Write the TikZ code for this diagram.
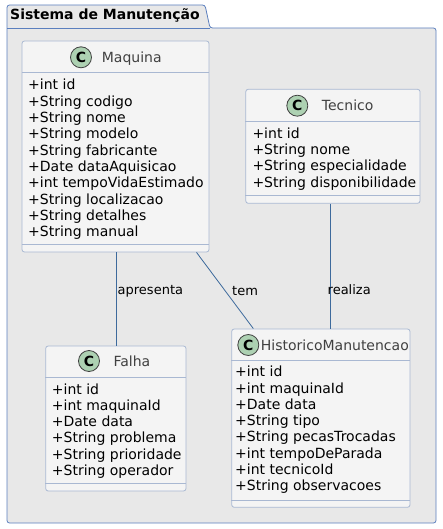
\documentclass[tikz,border=0pt]{standalone}
\usepackage{fontspec}
\setmainfont{DejaVu Sans}
\usetikzlibrary{positioning}
\definecolor{pkgfill}{HTML}{E8E8E8}
\definecolor{pkgline}{HTML}{5B7FBE}
\definecolor{boxfill}{HTML}{F4F4F4}
\definecolor{boxline}{HTML}{A9B8D2}
\definecolor{edgeline}{HTML}{3D6A9C}
\definecolor{circfill}{HTML}{ADD1B2}
\definecolor{titlegray}{HTML}{404040}
\tikzset{
  classbox/.style={draw=boxline, fill=boxfill, rounded corners=2.5pt, line width=0.8pt, inner sep=0pt},
  classicon/.style={circle, draw=black!75, fill=circfill, line width=0.8pt, minimum size=21pt, inner sep=0pt, font=\fontsize{14}{14}\selectfont\bfseries},
  classname/.style={anchor=base west, inner sep=0pt, text=titlegray, font=\fontsize{14}{16.3}\selectfont},
  attrs/.style={anchor=base west, inner sep=0pt, align=left, font=\fontsize{14}{16.3}\selectfont},
  sepline/.style={draw=boxline, line width=0.8pt},
  assoc/.style={draw=edgeline, line width=0.8pt},
  assoclabel/.style={anchor=base west, inner sep=0pt, font=\fontsize{13}{15}\selectfont}
}
\begin{document}
\begin{tikzpicture}[x=1pt, y=-1pt]
    \useasboundingbox (0,0) rectangle (443,529);
    % Package frame
    \draw[pkgline, fill=pkgfill, line width=0.8pt, rounded corners=2.5pt]
        (7,5) -- (205,5) -- (210,28) -- (436,28) -- (436,523) -- (7,523) -- cycle;
    \draw[pkgline, line width=0.8pt] (7,28) -- (210,28);
    \node[anchor=base west, inner sep=0pt, font=\fontsize{14}{16}\selectfont\bfseries] (pkgtitle) at (10,20) {Sistema de Manutenção};

    % Maquina (attribute nodes sit on the baseline of their last line)
    \node[classbox, minimum width=187pt, minimum height=211pt] (maquina) at (115.5,146.5) {};
    \draw[sepline] ([yshift=-32pt]maquina.north west) -- ([yshift=-32pt]maquina.north east);
    \draw[sepline] ([yshift=8.5pt]maquina.south west) -- ([yshift=8.5pt]maquina.south east);
    \node[classicon] (maquinaC) at (81,57.3) {C};
    \node[classname] (maquinaName) at (101.7,62.5) {Maquina};
    \node[attrs] (maquinaAttr) at (28,236.7) {+int id\\+String codigo\\+String nome\\+String modelo\\+String fabricante\\+Date dataAquisicao\\+int tempoVidaEstimado\\+String localizacao\\+String detalhes\\+String manual};

    % Tecnico
    \node[classbox, minimum width=174.3pt, minimum height=114pt] (tecnico) at (332.9,146.3) {};
    \draw[sepline] ([yshift=-32.4pt]tecnico.north west) -- ([yshift=-32.4pt]tecnico.north east);
    \draw[sepline] ([yshift=8.3pt]tecnico.south west) -- ([yshift=8.3pt]tecnico.south east);
    \node[classicon] (tecnicoC) at (297.3,105.7) {C};
    \node[classname] (tecnicoName) at (321.7,110.7) {Tecnico};
    \node[attrs] (tecnicoAttr) at (252.3,187.2) {+int id\\+String nome\\+String especialidade\\+String disponibilidade};

    % Falha
    \node[classbox, minimum width=140.3pt, minimum height=145pt] (falha) at (115.85,418.5) {};
    \draw[sepline] ([yshift=-31.3pt]falha.north west) -- ([yshift=-31.3pt]falha.north east);
    \draw[sepline] ([yshift=7.7pt]falha.south west) -- ([yshift=7.7pt]falha.south east);
    \node[classicon] (falhaC) at (89,361) {C};
    \node[classname] (falhaName) at (113.3,366) {Falha};
    \node[attrs] (falhaAttr) at (51.7,475.5) {+int id\\+int maquinaId\\+Date data\\+String problema\\+String prioridade\\+String operador};

    % HistoricoManutencao
    \node[classbox, minimum width=178.3pt, minimum height=178.3pt] (historico) at (320.85,418.15) {};
    \draw[sepline] ([yshift=-31.7pt]historico.north west) -- ([yshift=-31.7pt]historico.north east);
    \draw[sepline] ([yshift=7.3pt]historico.south west) -- ([yshift=7.3pt]historico.south east);
    \node[classicon] (historicoC) at (248.3,345) {C};
    \node[classname] (historicoName) at (260.7,350) {HistoricoManutencao};
    \node[attrs] (historicoAttr) at (235,490.8) {+int id\\+int maquinaId\\+Date data\\+String tipo\\+String pecasTrocadas\\+int tempoDeParada\\+int tecnicoId\\+String observacoes};

    % Associations
    \draw[assoc] ([xshift=1pt]maquina.south) -- ([xshift=1pt]maquina.south |- falha.north);
    \node[assoclabel] (apresenta) at (117.5,294) {apresenta};
    \draw[assoc] ([xshift=81pt]maquina.south) -- ([xshift=-67.5pt]historico.north);
    \node[assoclabel] (tem) at (232,295) {tem};
    \draw[assoc] ([xshift=-3pt]tecnico.south) -- ([xshift=-3pt]tecnico.south |- historico.north);
    \node[assoclabel] (realiza) at (327.5,294) {realiza};
\end{tikzpicture}
\end{document}
